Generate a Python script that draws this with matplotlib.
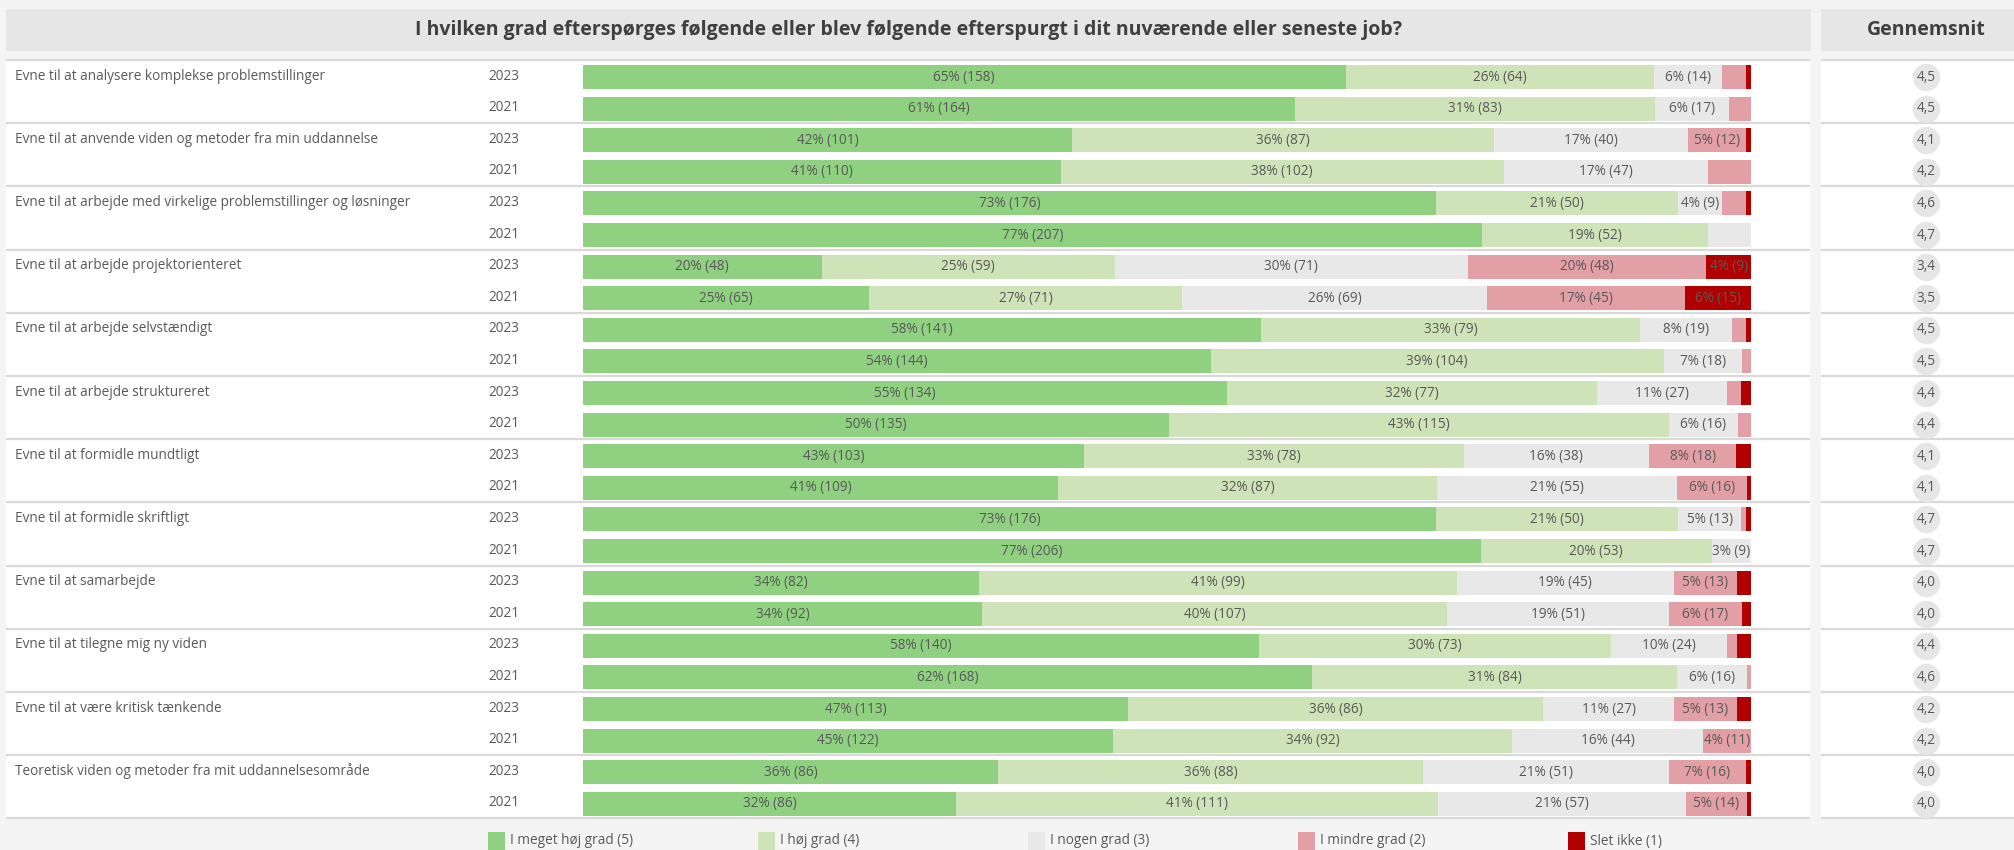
import math
import matplotlib
matplotlib.use("Agg")
import matplotlib.pyplot as plt
from matplotlib.patches import Rectangle

plt.rcParams['font.family'] = ['Open Sans', 'DejaVu Sans']

# ---------------- data ----------------
title = "I hvilken grad efterspørges følgende eller blev følgende efterspurgt i dit nuværende eller seneste job?"
avg_title = "Gennemsnit"
items = [
    "Evne til at analysere komplekse problemstillinger",
    "Evne til at anvende viden og metoder fra min uddannelse",
    "Evne til at arbejde med virkelige problemstillinger og løsninger",
    "Evne til at arbejde projektorienteret",
    "Evne til at arbejde selvstændigt",
    "Evne til at arbejde struktureret",
    "Evne til at formidle mundtligt",
    "Evne til at formidle skriftligt",
    "Evne til at samarbejde",
    "Evne til at tilegne mig ny viden",
    "Evne til at være kritisk tænkende",
    "Teoretisk viden og metoder fra mit uddannelsesområde",
]
years = ["2023", "2021"]
categories = ["I meget høj grad (5)", "I høj grad (4)", "I nogen grad (3)",
              "I mindre grad (2)", "Slet ikke (1)"]

# counts per item: [2023 counts, 2021 counts] in category order
meget_hoej = [[158, 164], [101, 110], [176, 207], [48, 65], [141, 144], [134, 135],
              [103, 109], [176, 206], [82, 92], [140, 168], [113, 122], [86, 86]]
hoej = [[64, 83], [87, 102], [50, 52], [59, 71], [79, 104], [77, 115],
        [78, 87], [50, 53], [99, 107], [73, 84], [86, 92], [88, 111]]
nogen = [[14, 17], [40, 47], [9, 10], [71, 69], [19, 18], [27, 16],
         [38, 55], [13, 9], [45, 51], [24, 16], [27, 44], [51, 57]]
mindre = [[5, 5], [12, 10], [5, 0], [48, 45], [3, 2], [3, 3],
          [18, 16], [1, 0], [13, 17], [2, 1], [13, 11], [16, 14]]
slet = [[1, 0], [1, 0], [1, 0], [9, 15], [1, 0], [2, 0],
        [3, 1], [1, 0], [3, 2], [3, 0], [3, 0], [1, 1]]
averages = [["4,5", "4,5"], ["4,1", "4,2"], ["4,6", "4,7"], ["3,4", "3,5"],
            ["4,5", "4,5"], ["4,4", "4,4"], ["4,1", "4,1"], ["4,7", "4,7"],
            ["4,0", "4,0"], ["4,4", "4,6"], ["4,2", "4,2"], ["4,0", "4,0"]]
# segments whose label is not shown in the original (item, year, category)
hidden_labels = {(2, 1, 2), (1, 1, 3)}

# ---------------- style ----------------
colors = ["#8fd081", "#cfe3b8", "#e8e8e8", "#e29fa6", "#b00000"]
txt = "#595959"
W, H = 2015, 850
BG = "#f4f4f4"
HEAD = "#e6e6e6"
SEP = "#d9d9d9"
G0, GH = 60.0, 63.2          # top of rows, group height (px)
n = len(items)
FS = 9.8

fig = plt.figure(figsize=(W / 100, H / 100), dpi=100, facecolor=BG)


def rect(x0, y0, x1, y1):
    return [x0 / W, 1 - y1 / H, (x1 - x0) / W, (y1 - y0) / H]


# background / frame axes in pixel coordinates
bg = fig.add_axes([0, 0, 1, 1])
bg.set_xlim(0, W)
bg.set_ylim(H, 0)
bg.axis("off")
bg.add_patch(Rectangle((6, 9), 1811 - 6, 42, color=HEAD, lw=0))
bg.add_patch(Rectangle((1821, 9), W - 1821, 42, color=HEAD, lw=0))
bg.add_patch(Rectangle((6, G0), 1810 - 6, GH * n, color="white", lw=0))
bg.add_patch(Rectangle((1821, G0), W - 1821, GH * n, color="white", lw=0))
bg.text((6 + 1811) / 2, 30, title, ha="center", va="center", fontsize=14,
        fontweight="bold", color="#404040")
bg.text(1926, 30, avg_title, ha="center", va="center", fontsize=14,
        fontweight="bold", color="#404040")
for g in range(n + 1):
    y = G0 + g * GH
    bg.plot([6, 1810], [y, y], color=SEP, lw=1.6, solid_capstyle="butt")
    bg.plot([1821, W], [y, y], color=SEP, lw=1.6, solid_capstyle="butt")

row_off = [0.27, 0.77]
for g, name in enumerate(items):
    y = G0 + (g + row_off[0]) * GH
    bg.text(15, y - 1, name, ha="left", va="center", fontsize=FS, color=txt)
    for r, yr in enumerate(years):
        yy = G0 + (g + row_off[r]) * GH
        bg.text(504, yy - 1, yr, ha="center", va="center", fontsize=FS, color=txt)

# legend
leg_x = [488, 758, 1028, 1298, 1568]
for lx, c, lab in zip(leg_x, colors, categories):
    bg.add_patch(Rectangle((lx, 832), 17, 22, color=c, lw=0))
    bg.text(lx + 22, 841, lab, ha="left", va="center", fontsize=FS, color=txt)

# bars axes
ax = fig.add_axes(rect(583, G0, 1751, G0 + GH * n))
ax.set_xlim(0, 1)
ax.set_ylim(n, 0)
ax.axis("off")
series = [meget_hoej, hoej, nogen, mindre, slet]
for g in range(n):
    for r in range(2):
        vals = [s[g][r] for s in series]
        tot = sum(vals)
        left = 0.0
        y = g + row_off[r]
        for k, v in enumerate(vals):
            if v == 0:
                continue
            w = v / tot
            ax.barh(y, w, left=left, height=0.38, color=colors[k], lw=0)
            pct = math.floor(v / tot * 100 + 0.5)
            if pct >= 3 and (g, r, k) not in hidden_labels:
                ax.text(left + w / 2, y, f"{pct}% ({v})", ha="center", va="center",
                        fontsize=FS, color=txt)
            left += w

# averages axes
ax2 = fig.add_axes(rect(1821, G0, W, G0 + GH * n))
ax2.set_xlim(1821, W)
ax2.set_ylim(n, 0)
ax2.axis("off")
for g in range(n):
    for r in range(2):
        y = g + row_off[r]
        ax2.scatter([1926], [y], s=390, color="#e6e6e6", lw=0, zorder=2)
        ax2.text(1926, y, averages[g][r], ha="center", va="center",
                 fontsize=FS, color=txt, zorder=3)

fig.savefig("out.png", dpi=100, facecolor=BG)
